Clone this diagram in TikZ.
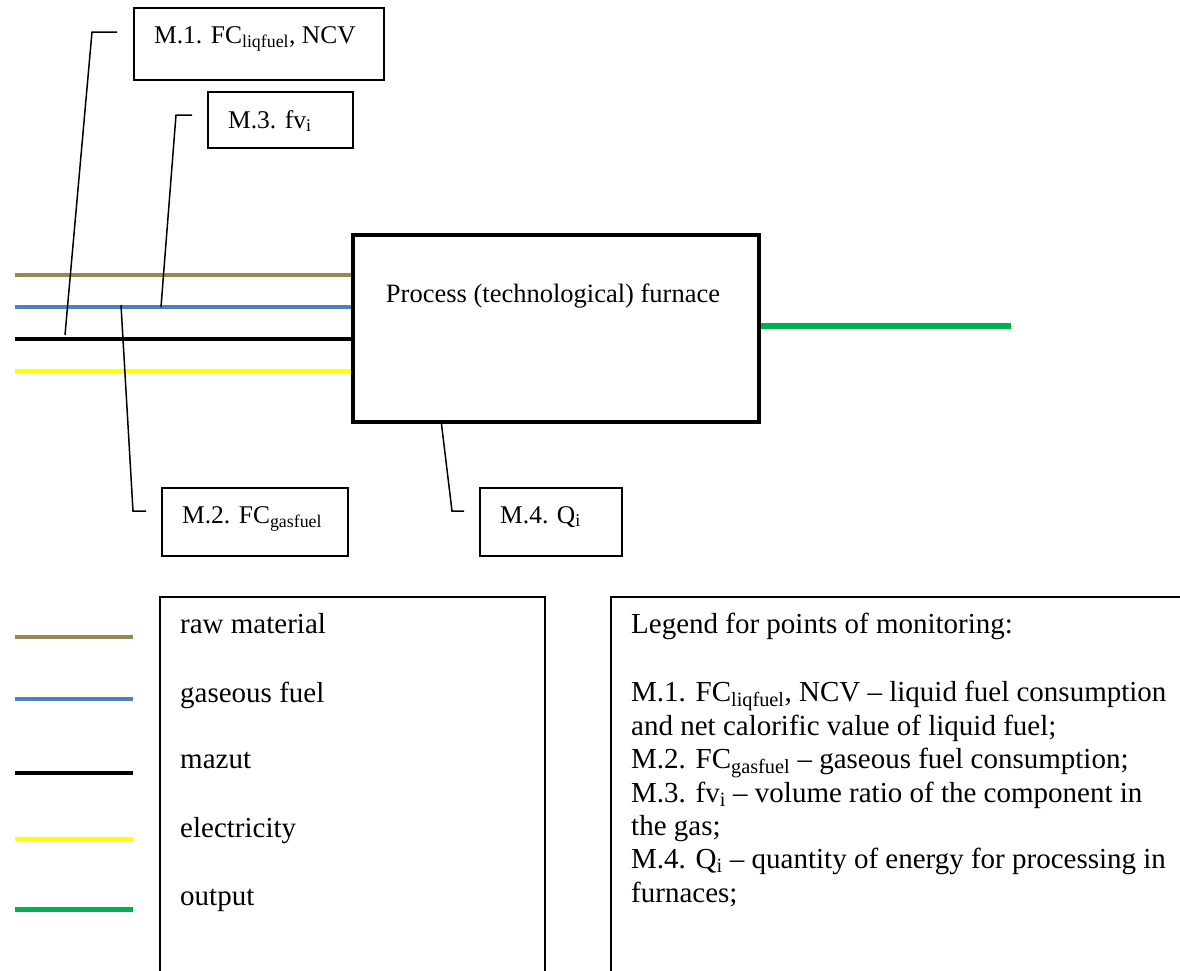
\documentclass[tikz,border=0pt]{standalone}
\usepackage{fontspec}
\setmainfont{Liberation Serif}
\definecolor{rawc}{HTML}{948A54}
\definecolor{gasc}{HTML}{4F81BD}
\definecolor{elc}{HTML}{FFFF00}
\definecolor{outc}{HTML}{00B050}
\tikzset{
  cbox/.style={draw=black, line width=1.5pt, rectangle, inner sep=0pt, anchor=north west},
  furnbox/.style={draw=black, line width=4pt, rectangle, inner sep=0pt, anchor=north west},
  lab/.style={inner sep=0pt, anchor=base west, font=\fontsize{25.5}{29}\selectfont},
  flab/.style={inner sep=0pt, anchor=base, font=\fontsize{26.5}{30}\selectfont},
  leg/.style={inner sep=0pt, anchor=base west, font=\fontsize{29}{33.4}\selectfont},
  callout/.style={draw=black, line width=1.5pt},
  rawl/.style={draw=rawc, line width=4pt},
  gasl/.style={draw=gasc, line width=4pt},
  mazl/.style={draw=black, line width=4pt},
  ell/.style={draw=elc, line width=4pt},
  outl/.style={draw=outc, line width=6pt},
  legbox/.style={draw=black, line width=1.5pt}
}
\begin{document}
\begin{tikzpicture}[x=1pt,y=-1pt]
\useasboundingbox (0,0) rectangle (1180,970);
\clip (0,0) rectangle (1180,970);
% callout boxes
\node[cbox, minimum width=250pt, minimum height=72pt] (m1) at (133,7) {};
\node[lab] (m1t) at (154,43) {M.1. FC\textsubscript{liqfuel}, NCV};
\node[cbox, minimum width=145pt, minimum height=56pt] (m3) at (207,91) {};
\node[lab] (m3t) at (228,128) {M.3. fv\textsubscript{i}};
\node[cbox, minimum width=186pt, minimum height=68pt] (m2) at (161,487) {};
\node[lab] (m2t) at (182,523) {M.2. FC\textsubscript{gasfuel}};
\node[cbox, minimum width=142pt, minimum height=68pt] (m4) at (479,487) {};
\node[lab] (m4t) at (500,523) {M.4. Q\textsubscript{i}};
% furnace
\node[furnbox, minimum width=406pt, minimum height=187pt] (fur) at (351,233) {};
\node[flab] (furt) at (553,302) {Process (technological) furnace};
% input lines
\coordinate (r0) at (15,275);
\coordinate (g0) at (15,307);
\coordinate (k0) at (15,339);
\coordinate (e0) at (15,371);
\draw[rawl] (r0) -- (r0 -| fur.west);
\draw[gasl] (g0) -- (g0 -| fur.west);
\draw[mazl] (k0) -- (k0 -| fur.west);
\draw[ell] (e0) -- (e0 -| fur.west);
% output line
\coordinate (o1) at (1011,326);
\draw[outl] (o1 -| fur.east) -- (o1);
% callouts
\coordinate (c1a) at (117,32);
\coordinate (c1b) at (92,32);
\coordinate (c1c) at (65,335);
\draw[callout] (c1a) -- (c1b) -- (c1c);
\coordinate (c3a) at (192,115);
\coordinate (c3b) at (176,115);
\coordinate (c3c) at (161,307);
\draw[callout] (c3a) -- (c3b) -- (c3c);
\coordinate (c2a) at (121,305);
\coordinate (c2b) at (133,511);
\coordinate (c2c) at (146,511);
\draw[callout] (c2a) -- (c2b) -- (c2c);
\coordinate (c4a) at (441,420);
\coordinate (c4b) at (452,511);
\coordinate (c4c) at (464,511);
\draw[callout] (c4a) -- (c4b) -- (c4c);
% legend of flows
\coordinate (lb1) at (160,975);
\coordinate (lb2) at (160,597);
\coordinate (lb3) at (545,597);
\coordinate (lb4) at (545,975);
\draw[legbox] (lb1) -- (lb2) -- (lb3) -- (lb4);
\coordinate (lr) at (15,637);
\coordinate (lg) at (15,699);
\coordinate (lk) at (15,773);
\coordinate (le) at (15,839);
\coordinate (lo) at (15,909);
\draw[draw=rawc, line width=3.5pt] (lr) -- ++(118,0);
\draw[draw=gasc, line width=3.5pt] (lg) -- ++(118,0);
\draw[mazl] (lk) -- ++(118,0);
\draw[draw=elc, line width=3.5pt] (le) -- ++(118,0);
\draw[draw=outc, line width=5pt] (lo) -- ++(118,0);
\node[leg] (t1) at (180,633) {raw material};
\node[leg] (t2) at (180,702) {gaseous fuel};
\node[leg] (t3) at (180,768) {mazut};
\node[leg] (t4) at (180,837) {electricity};
\node[leg] (t5) at (180,905) {output};
% legend of monitoring points
\coordinate (mb1) at (611,975);
\coordinate (mb2) at (611,597);
\coordinate (mb3) at (1190,597);
\draw[legbox] (mb1) -- (mb2) -- (mb3);
\node[leg] (u1) at (631,633) {Legend for points of monitoring:};
\node[leg] (u2) at (631,701) {M.1. FC\textsubscript{liqfuel}, NCV -- liquid fuel consumption};
\node[leg] (u3) at (631,735) {and net calorific value of liquid fuel;};
\node[leg] (u4) at (631,768) {M.2. FC\textsubscript{gasfuel} -- gaseous fuel consumption;};
\node[leg] (u5) at (631,802) {M.3. fv\textsubscript{i} -- volume ratio of the component in};
\node[leg] (u6) at (631,835) {the gas;};
\node[leg] (u7) at (631,868) {M.4. Q\textsubscript{i} -- quantity of energy for processing in};
\node[leg] (u8) at (631,902) {furnaces;};
\end{tikzpicture}
\end{document}
